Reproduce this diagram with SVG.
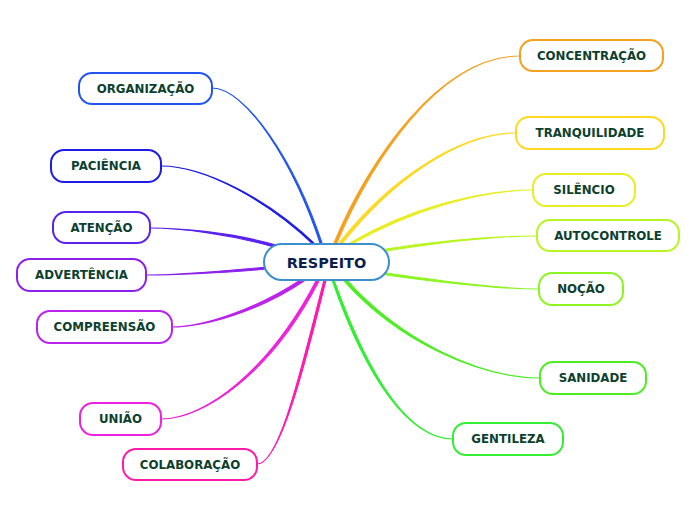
<svg xmlns="http://www.w3.org/2000/svg" width="696" height="520" viewBox="0 0 696 520">
<style>
.n rect{fill:#fff;stroke-width:2}
.n text{font-family:"DejaVu Sans",Verdana,sans-serif;font-weight:bold;font-size:11.8px;fill:#0d3f2f;text-anchor:middle;dominant-baseline:central}
.c path{stroke-width:1.1;stroke-linejoin:round}
#center text{font-size:14.5px;fill:#0c1f4d}
</style>
<rect width="696" height="520" fill="#fff"/>
<g class="c">
<path d="M323,246 C295,160 245,88 212,88 C245,88 293,160 321,246 Z" fill="#2255f0" stroke="#2255f0"/>
<path d="M317,246 C270,200 205,166 161,166 C205,166 268,201 315,246 Z" fill="#1c1ce6" stroke="#1c1ce6"/>
<path d="M276,245 C230,232 180,228 150,228 C180,228 229,234 274,247 Z" fill="#5a22ec" stroke="#5a22ec"/>
<path d="M268,267 C220,271 180,275 146,275 C180,275 220,273 268,269 Z" fill="#8a22ec" stroke="#8a22ec"/>
<path d="M304,281 C260,311 205,327 172,327 C205,327 258,308 302,279 Z" fill="#bb22ec" stroke="#bb22ec"/>
<path d="M319,281 C272,372 205,419 161,419 C205,419 270,370 317,279 Z" fill="#ee22dd" stroke="#ee22dd"/>
<path d="M326,280 C305,365 280,464 257,464 C280,464 302,365 324,280 Z" fill="#ff1aaa" stroke="#ff1aaa"/>
<path d="M336,245 C372,160 440,56 520,56 C440,56 369,159 334,243 Z" fill="#f5a020" stroke="#f5a020"/>
<path d="M341,245 C392,180 460,133 516,133 C460,133 390,178 339,243 Z" fill="#ffd822" stroke="#ffd822"/>
<path d="M350,245 C410,211 480,190 533,190 C480,190 409,208 350,243 Z" fill="#e8ee22" stroke="#e8ee22"/>
<path d="M386,251 C450,241 500,236 537,236 C500,236 450,239 386,249 Z" fill="#b8f522" stroke="#b8f522"/>
<path d="M386,273 C450,282 500,289 539,289 C500,289 450,284 386,275 Z" fill="#8cf522" stroke="#8cf522"/>
<path d="M346,279 C400,340 480,378 540,378 C480,378 398,342 344,281 Z" fill="#4cee22" stroke="#4cee22"/>
<path d="M334,280 C370,380 410,439 453,439 C410,439 367,381 332,280 Z" fill="#33ee33" stroke="#33ee33"/>
</g>
<g id="center" class="n"><rect x="264" y="244" width="125" height="36" rx="18" stroke="#3b8fcc"/><text x="326.5" y="262.5">RESPEITO</text></g>
<g id="organizacao" class="n"><rect x="79" y="73" width="133" height="31" rx="13" stroke="#2255f0"/><text x="145.5" y="88.5">ORGANIZAÇÃO</text></g>
<g id="paciencia" class="n"><rect x="51" y="150" width="110" height="32" rx="13" stroke="#1c1ce6"/><text x="106" y="166">PACIÊNCIA</text></g>
<g id="atencao" class="n"><rect x="53" y="212" width="97" height="31" rx="13" stroke="#5a22ec"/><text x="101.5" y="227.5">ATENÇÃO</text></g>
<g id="advertencia" class="n"><rect x="17" y="259" width="129" height="32" rx="13" stroke="#8a22ec"/><text x="81.5" y="275">ADVERTÊNCIA</text></g>
<g id="compreensao" class="n"><rect x="37" y="311" width="135" height="32" rx="13" stroke="#bb22ec"/><text x="104.5" y="327">COMPREENSÃO</text></g>
<g id="uniao" class="n"><rect x="80" y="403" width="81" height="32" rx="13" stroke="#ee22dd"/><text x="120.5" y="419">UNIÃO</text></g>
<g id="colaboracao" class="n"><rect x="123" y="449" width="134" height="31" rx="13" stroke="#ff1aaa"/><text x="190" y="464.5">COLABORAÇÃO</text></g>
<g id="concentracao" class="n"><rect x="520" y="40" width="143" height="31" rx="13" stroke="#f5a020"/><text x="591.5" y="55.5">CONCENTRAÇÃO</text></g>
<g id="tranquilidade" class="n"><rect x="516" y="117" width="148" height="32" rx="13" stroke="#ffd822"/><text x="590" y="133">TRANQUILIDADE</text></g>
<g id="silencio" class="n"><rect x="533" y="174" width="102" height="32" rx="13" stroke="#e8ee22"/><text x="584" y="190">SILÊNCIO</text></g>
<g id="autocontrole" class="n"><rect x="537" y="220" width="142" height="31" rx="13" stroke="#b8f522"/><text x="608" y="235.5">AUTOCONTROLE</text></g>
<g id="nocao" class="n"><rect x="539" y="273" width="84" height="32" rx="13" stroke="#8cf522"/><text x="581" y="289">NOÇÃO</text></g>
<g id="sanidade" class="n"><rect x="540" y="362" width="106" height="32" rx="13" stroke="#4cee22"/><text x="593" y="378">SANIDADE</text></g>
<g id="gentileza" class="n"><rect x="453" y="423" width="110" height="32" rx="13" stroke="#33ee33"/><text x="508" y="439">GENTILEZA</text></g>
</svg>
